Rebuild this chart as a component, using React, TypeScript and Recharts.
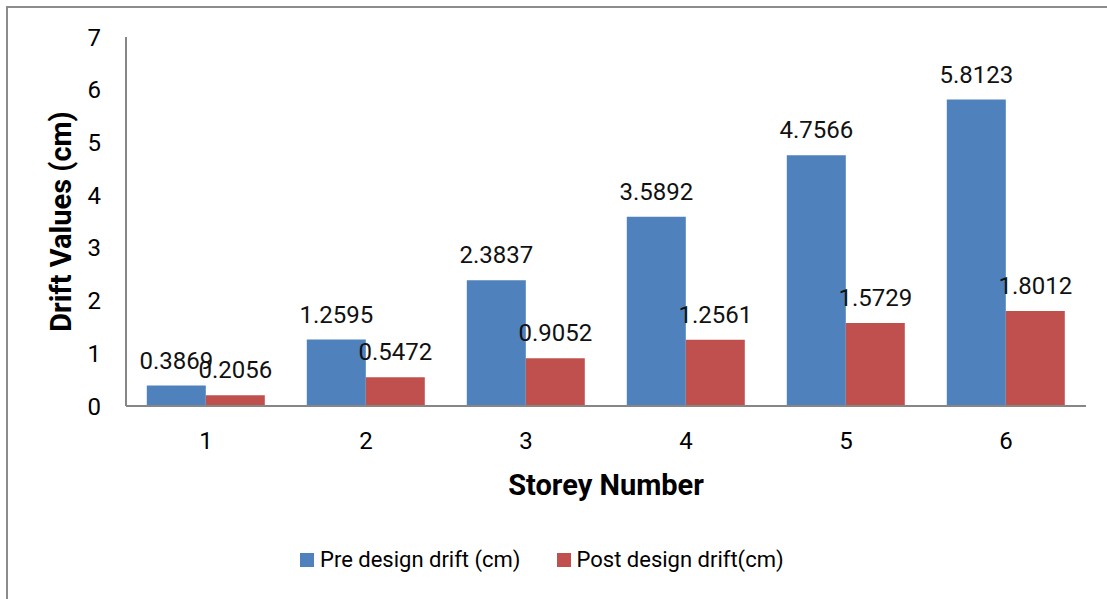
import React from 'react';
import { BarChart, Bar, XAxis, YAxis, Legend, LabelList, Label } from 'recharts';

const categories = ['1', '2', '3', '4', '5', '6'];
const preDrift = [0.3869, 1.2595, 2.3837, 3.5892, 4.7566, 5.8123];
const postDrift = [0.2056, 0.5472, 0.9052, 1.2561, 1.5729, 1.8012];
const yTicks = [0, 1, 2, 3, 4, 5, 6, 7];
const seriesNames = ['Pre design drift (cm)', 'Post design drift(cm)'];
const seriesColors = ['#4F81BD', '#C0504D'];

const data = categories.map((c, i) => ({ storey: c, pre: preDrift[i], post: postDrift[i] }));

const FONT = 'Roboto, "Noto Sans", sans-serif';

const LegendContent = () => {
  return (
    <div style={{ display: 'flex', alignItems: 'center', fontFamily: FONT, fontSize: 22, color: '#000' }}>
      {seriesNames.map((name, i) => (
        <div key={i} style={{ display: 'flex', alignItems: 'center', marginRight: i === 0 ? 36 : 0 }}>
          <div style={{ width: 14, height: 14, background: seriesColors[i], marginRight: 6 }} />
          <span style={{ whiteSpace: 'nowrap' }}>{name}</span>
        </div>
      ))}
    </div>
  );
};

export default function App() {
  return (
    <div style={{ position: 'absolute', left: 0, top: 0, width: 1107, height: 599, overflow: 'hidden', background: '#fff' }}>
      <div
        style={{
          position: 'absolute',
          left: 6,
          top: 6,
          width: 1200,
          height: 700,
          borderLeft: '2px solid #8c8c8c',
          borderTop: '2px solid #8c8c8c',
        }}
      />
      <div style={{ position: 'absolute', left: 0, top: 0 }}>
        <BarChart
          width={1107}
          height={599}
          data={data}
          margin={{ top: 37, right: 21, left: 0, bottom: 98 }}
          barCategoryGap="13%"
          barGap={0}
        >
          <XAxis
            dataKey="storey"
            height={95}
            tickLine={false}
            tickSize={0}
            tickMargin={26}
            axisLine={{ stroke: '#868686', strokeWidth: 2 }}
            tick={{ fill: '#000', fontSize: 24, fontFamily: FONT }}
          >
            <Label
              value="Storey Number"
              position="insideBottom"
              offset={6}
              style={{ fontSize: 29, fontWeight: 'bold', fontFamily: FONT, fill: '#000' }}
            />
          </XAxis>
          <YAxis
            width={126}
            domain={[0, 7]}
            ticks={yTicks}
            interval={0}
            tickLine={false}
            tickSize={0}
            tickMargin={25}
            axisLine={{ stroke: '#868686', strokeWidth: 2 }}
            tick={{ fill: '#000', fontSize: 24, fontFamily: FONT }}
          >
            <Label
              value="Drift Values (cm)"
              angle={-90}
              position="insideLeft"
              offset={61}
              style={{ fontSize: 29, fontWeight: 'bold', fontFamily: FONT, fill: '#000', textAnchor: 'middle' }}
            />
          </YAxis>
          <Legend
            verticalAlign="middle"
            layout="horizontal"
            content={<LegendContent />}
            wrapperStyle={{ left: 300, top: 547, width: 'auto' }}
          />
          <Bar dataKey="pre" name={seriesNames[0]} fill={seriesColors[0]} isAnimationActive={false}>
            <LabelList dataKey="pre" position="top" offset={17} fill="#111" fontSize={24} fontFamily={FONT} />
          </Bar>
          <Bar dataKey="post" name={seriesNames[1]} fill={seriesColors[1]} isAnimationActive={false}>
            <LabelList dataKey="post" position="top" offset={17} fill="#111" fontSize={24} fontFamily={FONT} />
          </Bar>
        </BarChart>
      </div>
    </div>
  );
}
